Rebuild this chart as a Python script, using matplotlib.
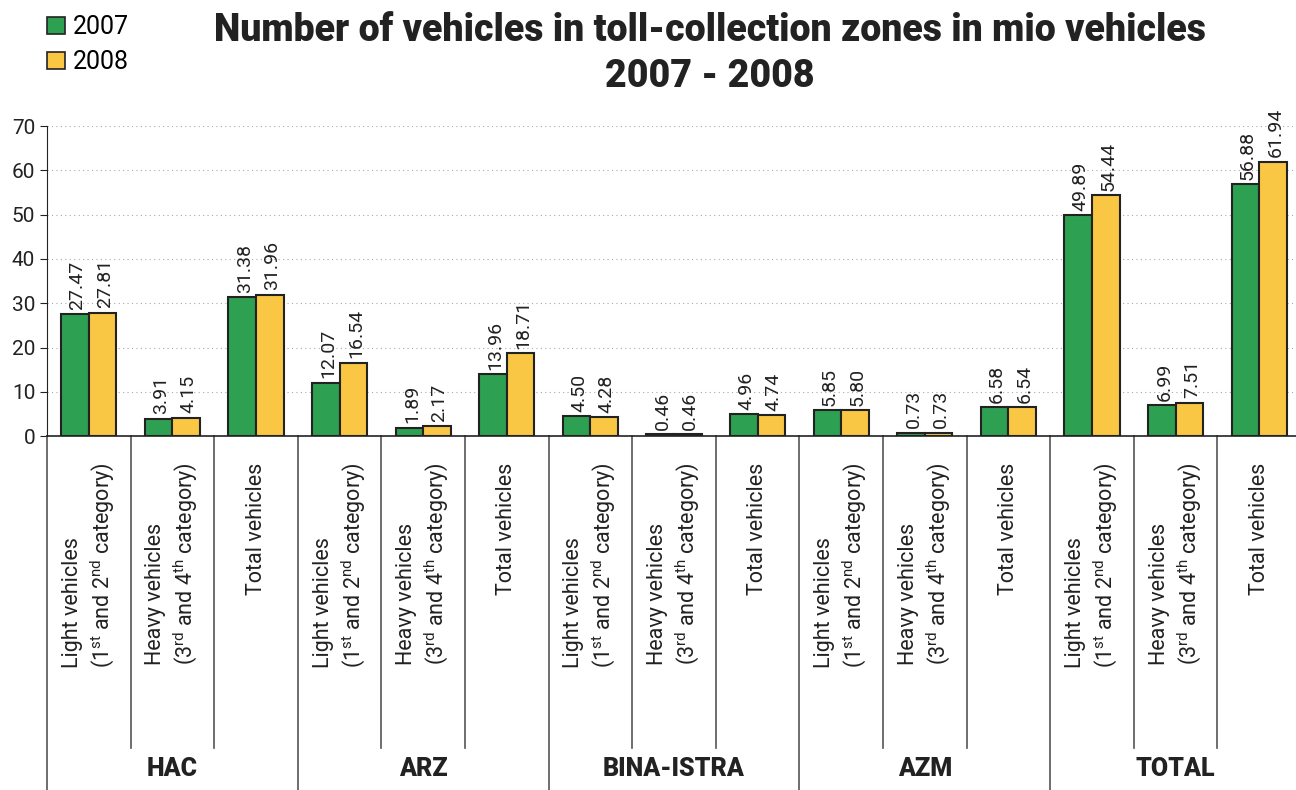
import numpy as np
import matplotlib
matplotlib.use("Agg")
import matplotlib.pyplot as plt
from matplotlib.patches import Patch
import matplotlib.transforms as mtransforms

plt.rcParams.update({
    "font.family": ["Roboto", "DejaVu Sans"],
    "mathtext.fontset": "custom",
    "mathtext.rm": "Roboto",
    "mathtext.it": "Roboto:italic",
    "mathtext.bf": "Roboto:bold",
})

# data
groups = ['HAC', 'ARZ', 'BINA-ISTRA', 'AZM', 'TOTAL']
sub_labels = [
    'Light vehicles\n(1$^{\\mathrm{st}}$ and 2$^{\\mathrm{nd}}$ category)',
    'Heavy vehicles\n(3$^{\\mathrm{rd}}$ and 4$^{\\mathrm{th}}$ category)',
    'Total vehicles',
]
vals_2007 = [27.47, 3.91, 31.38, 12.07, 1.89, 13.96, 4.50, 0.46, 4.96,
             5.85, 0.73, 6.58, 49.89, 6.99, 56.88]
vals_2008 = [27.81, 4.15, 31.96, 16.54, 2.17, 18.71, 4.28, 0.46, 4.74,
             5.80, 0.73, 6.54, 54.44, 7.51, 61.94]

GREEN = '#2ea052'
YELLOW = '#f9c744'

fig = plt.figure(figsize=(12.96, 7.9), dpi=100)
ax = fig.add_axes([47 / 1296, 0.448, 1254 / 1296, 0.3924])

x = np.arange(len(vals_2007))
w = 0.33
ax.bar(x - w / 2, vals_2007, w, color=GREEN, edgecolor='#222222', linewidth=1.5, zorder=3)
ax.bar(x + w / 2, vals_2008, w, color=YELLOW, edgecolor='#222222', linewidth=1.5, zorder=3)

# value labels; nudge right a bit since rotated bbox includes the descent
for xs, vals in [(x - w / 2, vals_2007), (x + w / 2, vals_2008)]:
    for xi, v in zip(xs, vals):
        ax.text(xi + 0.03, v + 1.0, f'{v:.2f}', rotation=90, ha='center', va='bottom',
                fontsize=14, color='#222222')

ax.set_xlim(-0.5, len(x) - 0.5)
ax.set_ylim(0, 70)
ax.set_yticks(np.arange(0, 71, 10))
ax.tick_params(axis='y', labelsize=15, length=5, direction='out', colors='#222222')
ax.set_xticks([])
ax.yaxis.grid(True, linestyle=(0, (1, 3)), color='#aaaaaa', linewidth=0.8)
ax.set_axisbelow(True)
for s in ['top', 'right']:
    ax.spines[s].set_visible(False)
ax.spines['bottom'].set_color('#222222')
ax.spines['bottom'].set_linewidth(1.2)
ax.spines['left'].set_color('#222222')

# category labels and separators below the axis
trans = mtransforms.blended_transform_factory(ax.transData, ax.transAxes)
for i in range(len(x)):
    ax.text(i, -0.085, sub_labels[i % 3], rotation=90, ha='center', va='top',
            multialignment='left', fontsize=15.5, linespacing=1.25,
            color='#222222', transform=trans)

for k in range(len(x) + 1):
    edge = k - 0.5
    bottom = -1.145 if k % 3 == 0 else -1.006
    ax.plot([edge, edge], [0, bottom], color='#555555', linewidth=1.2,
            transform=trans, clip_on=False)

for g, name in enumerate(groups):
    ax.text(3 * g + 1, -1.075, name, ha='center', va='center', fontsize=18,
            fontweight='black', color='#222222', transform=trans)

fig.text(0.548, 0.985, 'Number of vehicles in toll-collection zones in mio vehicles\n2007 - 2008',
         ha='center', va='top', fontsize=27, fontweight='black', linespacing=1.3,
         color='#222222')

handles = [Patch(facecolor=GREEN, edgecolor='#222222', linewidth=1.2, label='2007'),
           Patch(facecolor=YELLOW, edgecolor='#222222', linewidth=1.2, label='2008')]
fig.legend(handles=handles, loc='upper left', bbox_to_anchor=(0.025, 1.0),
           frameon=False, fontsize=18, handlelength=0.7, handleheight=0.7,
           handletextpad=0.3, labelspacing=0.45, borderaxespad=0.2)

fig.savefig('out.png', dpi=100)
